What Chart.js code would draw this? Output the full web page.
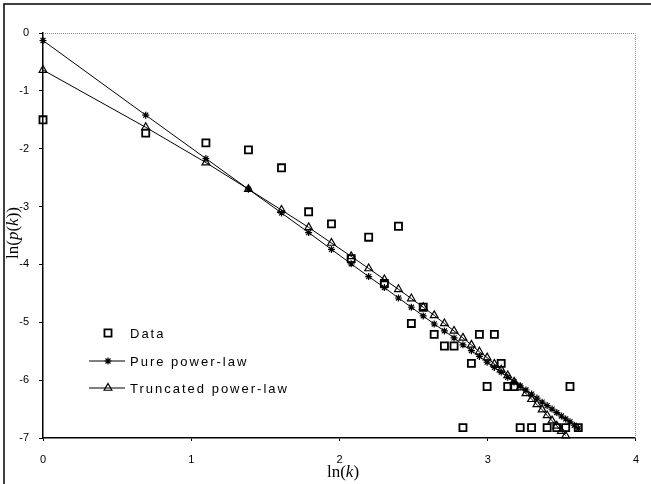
<!DOCTYPE html>
<html>
<head>
<meta charset="utf-8">
<script src="https://cdn.jsdelivr.net/npm/chart.js@4.4.0/dist/chart.umd.min.js"></script>
<style>
  html, body { margin: 0; padding: 0; background: #fff; }
  canvas { display: block; }
</style>
</head>
<body>
<canvas id="chart" width="651" height="484"></canvas>
<script>
// ln(k) for k = 1..37
const lnK = [0, 0.693, 1.099, 1.386, 1.609, 1.792, 1.946, 2.079, 2.197, 2.303,
  2.398, 2.485, 2.565, 2.639, 2.708, 2.773, 2.833, 2.890, 2.944, 2.996,
  3.045, 3.091, 3.135, 3.178, 3.219, 3.258, 3.296, 3.332, 3.367, 3.401,
  3.434, 3.466, 3.497, 3.526, 3.555, 3.584, 3.611];

// observed ln(p(k)), only where k was seen
const dataX = [0, 0.693, 1.099, 1.386, 1.609, 1.792, 1.946, 2.079, 2.197, 2.303,
  2.398, 2.485, 2.565, 2.639, 2.708, 2.773, 2.833, 2.890, 2.944, 2.996,
  3.045, 3.091, 3.135, 3.178, 3.219, 3.296, 3.401, 3.466, 3.526, 3.555, 3.611];
const dataY = [-1.50, -1.73, -1.90, -2.02, -2.33, -3.09, -3.30, -3.90, -3.53, -4.33,
  -3.34, -5.02, -4.74, -5.21, -5.41, -5.41, -6.82, -5.71, -5.21, -6.11,
  -5.21, -5.71, -6.11, -6.11, -6.82, -6.82, -6.82, -6.82, -6.82, -6.11, -6.82];

// fitted pure power-law, k = 1..37
const pureY = [-0.13, -1.42, -2.17, -2.70, -3.11, -3.45, -3.74, -3.99, -4.21, -4.40,
  -4.58, -4.74, -4.89, -5.03, -5.15, -5.27, -5.39, -5.49, -5.59, -5.69,
  -5.78, -5.86, -5.95, -6.03, -6.10, -6.17, -6.24, -6.31, -6.38, -6.44,
  -6.50, -6.56, -6.62, -6.67, -6.72, -6.78, -6.83];

// fitted truncated power-law, k = 1..34
const truncY = [-0.64, -1.63, -2.24, -2.70, -3.06, -3.36, -3.63, -3.86, -4.07, -4.26,
  -4.43, -4.59, -4.74, -4.88, -5.02, -5.15, -5.27, -5.39, -5.51, -5.61,
  -5.72, -5.82, -5.92, -6.03, -6.13, -6.23, -6.33, -6.42, -6.51, -6.61,
  -6.70, -6.79, -6.88, -6.96];

const xTicks = [0, 1, 2, 3, 4];
const yTicks = [0, -1, -2, -3, -4, -5, -6, -7];

const toPoints = (xs, ys) => ys.map((y, i) => ({ x: xs[i], y }));

// frame, dotted plot border, legend and axis titles
const decorations = {
  id: 'decorations',
  beforeDraw(chart) {
    const ctx = chart.ctx;
    ctx.save();
    ctx.fillStyle = '#fff';
    ctx.fillRect(0, 0, chart.width, chart.height);
    ctx.strokeStyle = '#000';
    ctx.lineWidth = 1.5;
    ctx.beginPath();
    ctx.moveTo(4, chart.height);
    ctx.lineTo(4, 4);
    ctx.lineTo(chart.width, 4);
    ctx.stroke();
    ctx.restore();
  },
  afterDatasetsDraw(chart) {
    const { ctx, chartArea } = chart;
    ctx.save();
    // dotted top and right border
    ctx.strokeStyle = '#888';
    ctx.lineWidth = 1;
    ctx.setLineDash([1, 1]);
    ctx.beginPath();
    ctx.moveTo(chartArea.left, chartArea.top + 0.5);
    ctx.lineTo(chartArea.right - 0.5, chartArea.top + 0.5);
    ctx.lineTo(chartArea.right - 0.5, chartArea.bottom);
    ctx.stroke();
    ctx.setLineDash([]);

    // legend
    const ds = chart.data.datasets;
    const rows = [
      { y: 333, line: false, d: ds[0], label: 'Data' },
      { y: 361, line: true, d: ds[1], label: 'Pure power-law' },
      { y: 388, line: true, d: ds[2], label: 'Truncated power-law' }
    ];
    ctx.font = '13px "Liberation Sans", Arial, sans-serif';
    ctx.letterSpacing = '2px';
    ctx.textBaseline = 'middle';
    ctx.fillStyle = '#000';
    rows.forEach(r => {
      if (r.line) {
        ctx.strokeStyle = '#000';
        ctx.lineWidth = 1.2;
        ctx.beginPath();
        ctx.moveTo(89, r.y);
        ctx.lineTo(125, r.y);
        ctx.stroke();
      }
      ctx.strokeStyle = '#000';
      ctx.fillStyle = 'rgba(0,0,0,0)';
      ctx.lineWidth = r.d.pointBorderWidth;
      Chart.helpers.drawPoint(ctx, {
        pointStyle: r.d.pointStyle,
        radius: r.d.pointRadius,
        rotation: 0,
        borderWidth: r.d.pointBorderWidth
      }, 108, r.y);
      ctx.fillStyle = '#000';
      ctx.fillText(r.label, 130, r.y + 1);
    });
    ctx.letterSpacing = '0px';

    // axis titles with italic k
    const serif = '"Liberation Serif", "Times New Roman", serif';
    const drawTitle = (parts, cx, cy, rot) => {
      ctx.save();
      ctx.translate(cx, cy);
      ctx.rotate(rot);
      let w = 0;
      parts.forEach(p => {
        ctx.font = (p[1] ? 'italic ' : '') + '17px ' + serif;
        w += ctx.measureText(p[0]).width;
      });
      let x = -w / 2;
      ctx.textAlign = 'left';
      ctx.textBaseline = 'middle';
      ctx.fillStyle = '#000';
      parts.forEach(p => {
        ctx.font = (p[1] ? 'italic ' : '') + '17px ' + serif;
        ctx.fillText(p[0], x, 0);
        x += ctx.measureText(p[0]).width;
      });
      ctx.restore();
    };
    drawTitle([['ln(', false], ['k', true], [')', false]], 343, 473, 0);
    drawTitle([['ln(', false], ['p', true], ['(', false], ['k', true], ['))', false]], 14, 233, -Math.PI / 2);
    ctx.restore();
  }
};

new Chart(document.getElementById('chart'), {
  type: 'scatter',
  data: {
    datasets: [
      {
        label: 'Data',
        data: toPoints(dataX, dataY),
        pointStyle: 'rect',
        pointRadius: 5,
        pointBorderWidth: 1.8,
        borderColor: '#000',
        backgroundColor: 'rgba(0,0,0,0)',
        showLine: false
      },
      {
        label: 'Pure power-law',
        data: toPoints(lnK, pureY),
        pointStyle: 'star',
        pointRadius: 3.5,
        pointBorderWidth: 1.2,
        borderColor: '#000',
        borderWidth: 1,
        backgroundColor: 'rgba(0,0,0,0)',
        showLine: true
      },
      {
        label: 'Truncated power-law',
        data: toPoints(lnK, truncY),
        pointStyle: 'triangle',
        pointRadius: 4.5,
        pointBorderWidth: 1.2,
        borderColor: '#000',
        borderWidth: 1,
        backgroundColor: 'rgba(0,0,0,0)',
        showLine: true
      }
    ]
  },
  options: {
    responsive: false,
    animation: false,
    clip: false,
    layout: { padding: { left: 0, top: 33, right: 11, bottom: 0 } },
    plugins: {
      legend: { display: false },
      tooltip: { enabled: false }
    },
    scales: {
      x: {
        type: 'linear',
        min: 0,
        max: 4,
        afterBuildTicks: s => { s.ticks = xTicks.map(v => ({ value: v })); },
        afterFit: s => { s.height = 46; },
        border: { color: '#000', width: 1.5 },
        grid: { drawOnChartArea: false, color: '#000', tickLength: 3 },
        ticks: {
          color: '#000',
          padding: 12,
          font: { family: '"Liberation Sans", Arial, sans-serif', size: 11 }
        }
      },
      y: {
        type: 'linear',
        min: -7,
        max: 0,
        afterBuildTicks: s => { s.ticks = yTicks.map(v => ({ value: v })); },
        afterFit: s => { s.width = 43; },
        border: { color: '#000', width: 1.5 },
        grid: { drawOnChartArea: false, color: '#000', tickLength: 4 },
        ticks: {
          color: '#000',
          padding: 10,
          font: { family: '"Liberation Sans", Arial, sans-serif', size: 11 }
        }
      }
    }
  },
  plugins: [decorations]
});
</script>
</body>
</html>
